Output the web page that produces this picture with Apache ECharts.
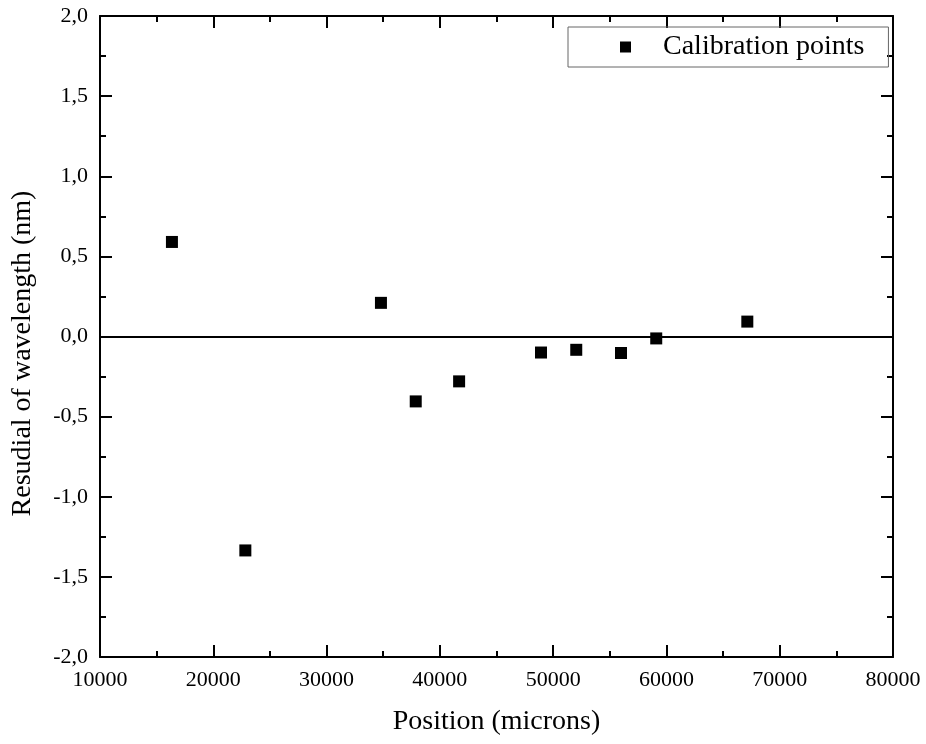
<!DOCTYPE html>
<html>
<head>
<meta charset="utf-8">
<script src="https://cdn.jsdelivr.net/npm/echarts@6/dist/echarts.min.js"></script>
<style>html,body{margin:0;padding:0;background:#fff}#c{width:926px;height:744px}</style>
</head>
<body>
<div id="c"></div>
<script>
var positions = [16350, 22830, 34800, 37870, 41700, 48930, 52040, 55990, 59100, 67140];
var residuals = [0.59, -1.335, 0.21, -0.405, -0.28, -0.1, -0.083, -0.103, -0.012, 0.093];
var seriesName = 'Calibration points';
var xTitle = 'Position (microns)';
var yTitle = 'Resudial of wavelength (nm)';

var FONT = '"Liberation Serif", "Times New Roman", serif';
var chart = echarts.init(document.getElementById('c'), null, {renderer: 'canvas'});
var pts = positions.map(function (x, i) { return [x, residuals[i]]; });
var axisLine = {show: true, onZero: false, lineStyle: {color: '#000', width: 2}};
var xCommon = {
  type: 'value', min: 10000, max: 80000, interval: 10000,
  axisLine: axisLine, splitLine: {show: false},
  axisTick: {show: true, inside: true, length: 12, lineStyle: {color: '#000', width: 2}},
  minorTick: {show: true, splitNumber: 2, length: 6, lineStyle: {color: '#000', width: 2}}
};
var yCommon = {
  type: 'value', min: -2, max: 2, interval: 0.5,
  axisLine: axisLine, splitLine: {show: false},
  axisTick: {show: true, inside: true, length: 12, lineStyle: {color: '#000', width: 2}},
  minorTick: {show: true, splitNumber: 2, length: 6, lineStyle: {color: '#000', width: 2}}
};
var option = {
  animation: false,
  backgroundColor: '#fff',
  textStyle: {fontFamily: FONT},
  grid: {left: 100, right: 33, top: 16, bottom: 87},
  legend: {
    left: 568, top: 27,
    data: [{name: seriesName, icon: 'rect'}],
    itemWidth: 11, itemHeight: 11,
    padding: [6, 24, 6, 52],
    borderColor: '#666', borderWidth: 1,
    textStyle: {fontFamily: FONT, fontSize: 28, color: '#000', padding: [0, 0, 0, 27]}
  },
  xAxis: [
    Object.assign({}, xCommon, {
      position: 'bottom',
      name: xTitle, nameLocation: 'middle', nameGap: 51,
      nameTextStyle: {fontFamily: FONT, fontSize: 28, color: '#000'},
      axisLabel: {fontFamily: FONT, fontSize: 22, color: '#000', margin: 12,
        formatter: function (v) { return String(v); }}
    }),
    Object.assign({}, xCommon, {position: 'top', axisLabel: {show: false}})
  ],
  yAxis: [
    Object.assign({}, yCommon, {
      position: 'left',
      name: yTitle, nameLocation: 'middle', nameGap: 63,
      nameTextStyle: {fontFamily: FONT, fontSize: 28, color: '#000', padding: [0, 34, 0, 0]},
      axisLabel: {fontFamily: FONT, fontSize: 22, color: '#000', margin: 12,
        formatter: function (v) { return v.toFixed(1).replace('.', ','); }}
    }),
    Object.assign({}, yCommon, {position: 'right', axisLabel: {show: false}})
  ],
  series: [{
    name: seriesName, type: 'scatter', data: pts,
    symbol: 'rect', symbolSize: 12,
    itemStyle: {color: '#000', opacity: 1},
    markLine: {
      silent: true, symbol: 'none', label: {show: false},
      lineStyle: {color: '#000', width: 2, type: 'solid', opacity: 1},
      data: [{yAxis: 0}]
    }
  }]
};
chart.setOption(option);
</script>
</body>
</html>
